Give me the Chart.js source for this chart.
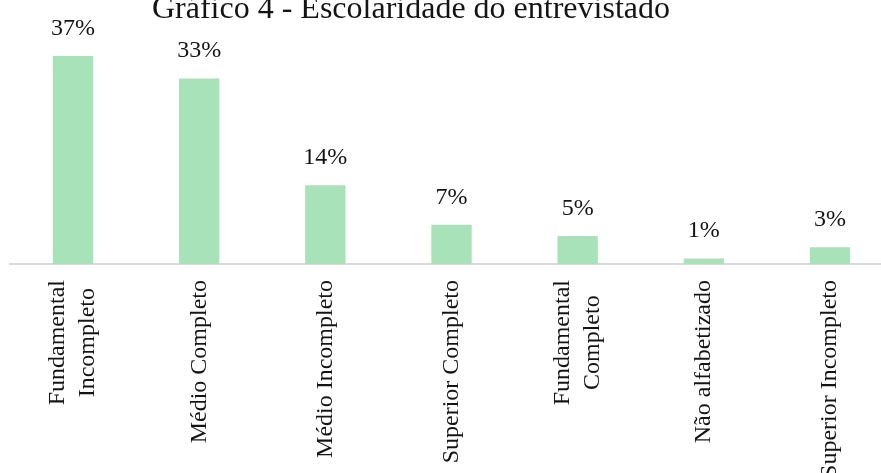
<!DOCTYPE html>
<html lang="pt-BR">
<head>
<meta charset="utf-8">
<title>Escolaridade do entrevistado</title>
<script src="https://cdn.jsdelivr.net/npm/chart.js@4"></script>
<style>
  html, body { margin: 0; padding: 0; background: #fff; overflow: hidden; }
  #wrap { position: relative; width: 881px; height: 473px; overflow: hidden; }
  #titulo {
    position: absolute; left: 0; width: 822px; top: -11px;
    text-align: center; white-space: nowrap;
    font-family: "Liberation Serif", "Times New Roman", serif;
    font-size: 32px; color: #141414;
  }
  #grafico { position: absolute; left: 0; top: 0; }
</style>
</head>
<body>
<div id="wrap">
  <canvas id="grafico" width="900" height="500"></canvas>
  <div id="titulo">Gráfico 4 - Escolaridade do entrevistado</div>
</div>
<script>
// Escolaridade (%)
var categorias = [
  ['Fundamental', 'Incompleto'],
  ['Médio Completo'],
  ['Médio Incompleto'],
  ['Superior Completo'],
  ['Fundamental', 'Completo'],
  ['Não alfabetizado'],
  ['Superior Incompleto']
];
var percentuais = [37, 33, 14, 7, 5, 1, 3];

var corBarra = '#a7e2b8';
var corTexto = '#141414';
var fonte = '"Liberation Serif", "Times New Roman", serif';

// percent label above each bar
var rotulosValor = {
  id: 'rotulosValor',
  afterDatasetsDraw: function(chart) {
    var ctx = chart.ctx;
    var meta = chart.getDatasetMeta(0);
    ctx.save();
    ctx.font = '24px ' + fonte;
    ctx.fillStyle = corTexto;
    ctx.textAlign = 'center';
    ctx.textBaseline = 'alphabetic';
    meta.data.forEach(function(bar, i) {
      ctx.fillText(percentuais[i] + '%', bar.x, bar.y - 21);
    });
    ctx.restore();
  }
};

// vertical category names, lines centred on each other
var rotulosCategoria = {
  id: 'rotulosCategoria',
  afterDraw: function(chart) {
    var ctx = chart.ctx;
    var eixo = chart.scales.x;
    var topo = chart.chartArea.bottom + 16;
    var entreLinhas = 30;
    ctx.save();
    ctx.font = '24px ' + fonte;
    ctx.fillStyle = corTexto;
    ctx.textAlign = 'center';
    ctx.textBaseline = 'middle';
    categorias.forEach(function(linhas, i) {
      var x = eixo.getPixelForTick(i);
      var maior = Math.max.apply(null, linhas.map(function(l) { return ctx.measureText(l).width; }));
      ctx.save();
      ctx.translate(x, topo);
      ctx.rotate(-Math.PI / 2);
      linhas.forEach(function(l, j) {
        ctx.fillText(l, -maior / 2, (j - (linhas.length - 1) / 2) * entreLinhas);
      });
      ctx.restore();
    });
    ctx.restore();
  }
};

var ctx = document.getElementById('grafico').getContext('2d');

var grafico = new Chart(ctx, {
  type: 'bar',
  data: {
    labels: categorias,
    datasets: [{
      label: 'Escolaridade',
      data: percentuais,
      backgroundColor: corBarra,
      borderWidth: 0,
      categoryPercentage: 1,
      barPercentage: 0.32
    }]
  },
  options: {
    responsive: false,
    animation: false,
    layout: { padding: { left: 10, right: 7, top: 11, bottom: 228 } },
    plugins: {
      legend: { display: false },
      title: { display: false },
      tooltip: { enabled: false }
    },
    scales: {
      x: {
        grid: { display: false },
        border: { display: true, color: '#d9d9d9', width: 2 },
        ticks: { display: false }
      },
      y: {
        display: false,
        min: 0,
        max: 45
      }
    }
  },
  plugins: [rotulosValor, rotulosCategoria]
});
</script>
</body>
</html>
